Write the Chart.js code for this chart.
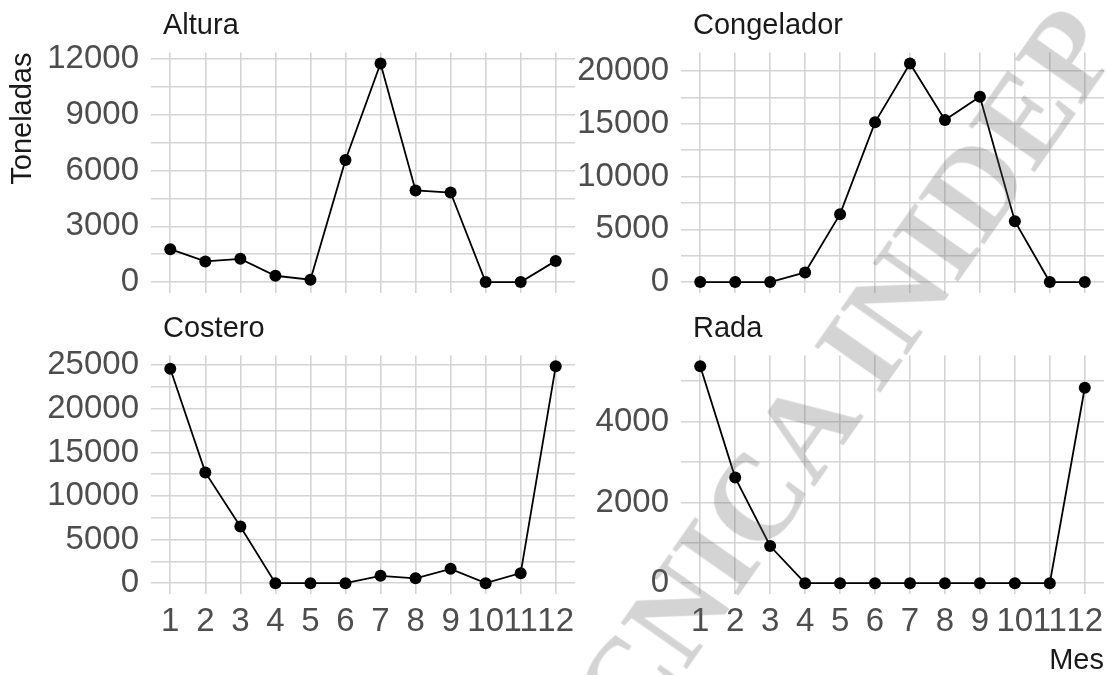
<!DOCTYPE html>
<html>
<head>
<meta charset="utf-8">
<script src="https://cdn.jsdelivr.net/npm/chart.js@4.4.1/dist/chart.umd.min.js"></script>
<style>
  html, body { margin: 0; padding: 0; background: #fff; overflow: hidden; }
  #wrap { position: relative; width: 1106px; height: 675px; overflow: hidden; }
  #wrap canvas { position: absolute; }
  #mark {
    position: absolute; left: 508px; top: 792px;
    font: bold 122px "Liberation Serif", "Times New Roman", serif;
    line-height: 122px; height: 122px; white-space: nowrap;
    color: rgba(100, 100, 100, 0.28);
    transform-origin: 0 50%; transform: rotate(-55deg);
    pointer-events: none;
  }
</style>
</head>
<body>
<div id="wrap">
  <canvas id="c-altura"></canvas>
  <canvas id="c-congelador"></canvas>
  <canvas id="c-costero"></canvas>
  <canvas id="c-rada"></canvas>
  <div id="mark">TÉCNICA INIDEP</div>
</div>
<script>
"use strict";

// data (toneladas por mes)
const months = [1, 2, 3, 4, 5, 6, 7, 8, 9, 10, 11, 12];
const altura = [1770, 1110, 1250, 340, 125, 6575, 11770, 4930, 4820, 0, 0, 1140];
const congelador = [0, 0, 0, 915, 6435, 15140, 20720, 15360, 17570, 5770, 0, 0];
const costero = [24600, 12710, 6500, 0, 0, 0, 840, 560, 1645, 0, 1150, 24880];
const rada = [5370, 2615, 920, 0, 0, 0, 0, 0, 0, 0, 0, 4840];

// labelled y ticks of each facet
const alturaTicks = [0, 3000, 6000, 9000, 12000];
const congeladorTicks = [0, 5000, 10000, 15000, 20000];
const costeroTicks = [0, 5000, 10000, 15000, 20000, 25000];
const radaTicks = [0, 2000, 4000];

const FONT = "'Liberation Sans', Arial, sans-serif";
const GRID = "#d4d4d4";
Chart.defaults.font.family = FONT;

// facet strip label, left aligned above the panel
const stripTitle = {
  id: "stripTitle",
  afterDraw(chart, args, opts) {
    const { ctx, chartArea } = chart;
    ctx.save();
    ctx.font = "29px " + FONT;
    ctx.fillStyle = "#1a1a1a";
    ctx.textBaseline = "middle";
    ctx.textAlign = "left";
    ctx.fillText(opts.text, chartArea.left + 12, chartArea.top - 27);
    ctx.restore();
  },
};

const panels = [
  { id: "c-altura", title: "Altura", values: altura, ticks: alturaTicks,
    box: [0, 0, 578, 300], area: [151, 52.5, 575, 293], xLabels: false, yTitle: "Toneladas" },
  { id: "c-congelador", title: "Congelador", values: congelador, ticks: congeladorTicks,
    box: [578, 0, 528, 300], area: [681, 52.5, 1104, 293], xLabels: false },
  { id: "c-costero", title: "Costero", values: costero, ticks: costeroTicks,
    box: [0, 300, 578, 375], area: [151, 355.5, 575, 594], xLabels: true },
  { id: "c-rada", title: "Rada", values: rada, ticks: radaTicks,
    box: [578, 300, 528, 375], area: [681, 355.5, 1104, 594], xLabels: true, xTitle: "Mes" },
];

function makePanel(p) {
  const cv = document.getElementById(p.id);
  const [bx, by, bw, bh] = p.box;
  const [L, T, R, B] = p.area;
  cv.style.left = bx + "px";
  cv.style.top = by + "px";
  cv.width = bw;
  cv.height = bh;
  cv.style.width = bw + "px";
  cv.style.height = bh + "px";

  // ggplot style 5% expansion of the free y range
  const lo = Math.min(...p.values);
  const hi = Math.max(...p.values);
  const pad = (hi - lo) * 0.05;
  const step = p.ticks[1] - p.ticks[0];
  const gridVals = [];
  for (let v = p.ticks[0]; v <= hi + pad; v += step / 2) gridVals.push(v);

  new Chart(cv, {
    type: "line",
    data: {
      datasets: [
        {
          data: months.map((m, i) => ({ x: m, y: p.values[i] })),
          borderColor: "#000",
          borderWidth: 1.8,
          pointRadius: 6,
          pointBackgroundColor: "#000",
          pointBorderWidth: 0,
          tension: 0,
        },
      ],
    },
    options: {
      responsive: false,
      animation: false,
      events: [],
      layout: {
        autoPadding: false,
        padding: { left: 0, top: T - by, right: bx + bw - R, bottom: 0 },
      },
      plugins: {
        legend: { display: false },
        tooltip: { enabled: false },
        stripTitle: { text: p.title },
      },
      scales: {
        x: {
          type: "linear",
          min: 0.45,
          max: 12.55,
          afterBuildTicks: (s) => {
            s.ticks = months.map((v) => ({ value: v }));
          },
          afterFit: (s) => {
            s.height = by + bh - B;
            s.paddingLeft = 0;
            s.paddingRight = 0;
          },
          grid: { color: GRID, lineWidth: 1.6, drawTicks: false },
          border: { display: false },
          ticks: {
            display: p.xLabels,
            autoSkip: false,
            maxRotation: 0,
            padding: 8,
            color: "#4d4d4d",
            font: { size: 33 },
            callback: (v) => String(v),
          },
          title: {
            display: !!p.xTitle,
            text: p.xTitle || "",
            align: "end",
            color: "#1a1a1a",
            font: { size: 29, lineHeight: 1 },
            padding: { top: 0, bottom: 0 },
          },
        },
        y: {
          type: "linear",
          min: lo - pad,
          max: hi + pad,
          afterBuildTicks: (s) => {
            s.ticks = gridVals.map((v) => ({ value: v }));
          },
          afterFit: (s) => {
            s.width = L - bx;
            s.paddingTop = 0;
            s.paddingBottom = 0;
          },
          grid: { color: GRID, lineWidth: 1.6, drawTicks: false },
          border: { display: false },
          ticks: {
            autoSkip: false,
            padding: 12,
            color: "#4d4d4d",
            font: { size: 33 },
            callback: (v) => (p.ticks.includes(v) ? String(v) : ""),
          },
          title: {
            display: !!p.yTitle,
            text: p.yTitle || "",
            align: "end",
            color: "#1a1a1a",
            font: { size: 29, lineHeight: 1.2 },
            padding: { top: 6, bottom: 0 },
          },
        },
      },
    },
    plugins: [stripTitle],
  });
}

panels.forEach(makePanel);
</script>
</body>
</html>
